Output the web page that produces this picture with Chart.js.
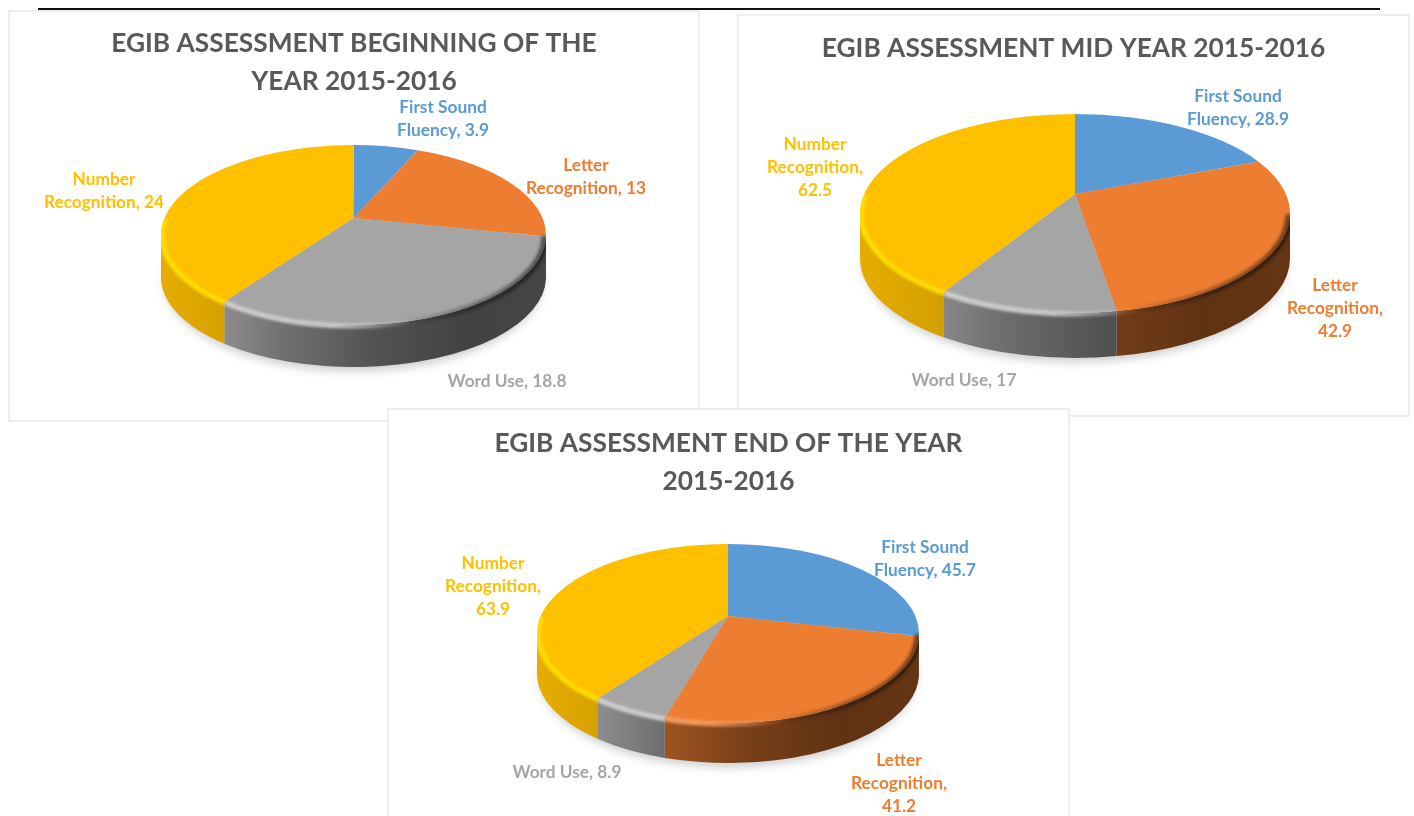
<!DOCTYPE html>
<html><head><meta charset="utf-8">
<script src="https://cdn.jsdelivr.net/npm/chart.js@4"></script>
<style>
html,body{margin:0;padding:0;background:#fff;width:1414px;height:816px;overflow:hidden}
#rule{position:absolute;left:38px;top:8px;width:1342px;height:2px;background:#111}
.card{position:absolute;background:#fff;box-sizing:border-box;border:2px solid #eeeeee}
canvas{position:absolute;left:-2px;top:-2px;filter:blur(.45px)}
</style></head><body>
<div id="rule"></div>
<script>
const categories = ['First Sound Fluency', 'Letter Recognition', 'Word Use', 'Number Recognition'];
const beginValues = [3.9, 13, 18.8, 24];
const midValues = [28.9, 42.9, 17, 62.5];
const endValues = [45.7, 41.2, 8.9, 63.9];
const beginTitle = ['EGIB ASSESSMENT BEGINNING OF THE', 'YEAR 2015-2016'];
const midTitle = ['EGIB ASSESSMENT MID YEAR 2015-2016'];
const endTitle = ['EGIB ASSESSMENT END OF THE YEAR', '2015-2016'];
const sliceColors = ['#5B9BD5', '#ED7D31', '#A5A5A5', '#FFC000'];
const rimColors = ['#7FB2E0', '#F7A064', '#D2D2D2', '#FFE000'];
const labelColors = ['#5B9BD5', '#ED7D31', '#A5A5A5', '#FFC000'];
const titleColor = '#595959';
const fontFamily = 'Lato, Carlito, sans-serif';

// layout only: card box, ellipse of the tilted pie, label anchors (page px)
const layouts = [
 {values:beginValues,title:beginTitle,box:[8,10,692,412],pad:15,
  pie:{cx:353.5,cy:235,rx:192.5,ry:90,depth:42,b:-0.19},
  labels:[{x:443,y:107,w:[2,2]},{x:586,y:165,w:[1,2]},{x:507,y:381,w:[3]},{x:104,y:179,w:[1,2]}]},
 {values:midValues,title:midTitle,box:[737,14,673,403],pad:16,
  pie:{cx:1075,cy:213.5,rx:215,ry:99.5,depth:45,b:-0.196},
  labels:[{x:1238,y:96,w:[2,2]},{x:1335,y:285,w:[1,1,1]},{x:964,y:380,w:[3]},{x:815,y:144,w:[1,1,1]}]},
 {values:endValues,title:endTitle,box:[387,408,683,420],pad:17,
  pie:{cx:728,cy:633.5,rx:191,ry:89.5,depth:40,b:-0.196},
  labels:[{x:925,y:547,w:[2,2]},{x:899,y:760,w:[1,1,1]},{x:567,y:772,w:[3]},{x:493,y:563,w:[1,1,1]}]}
];

const wallShade = [[0,.90],[.17,.84],[.32,.68],[.55,.50],[.8,.40],[1,.42]];
function rgb(hex){const n=parseInt(hex.slice(1),16);return [n>>16,(n>>8)&255,n&255];}
function wallGradient(ctx,g,hex){
  const gr=ctx.createLinearGradient(g.cx-g.rx,0,g.cx+g.rx,0),c=rgb(hex);
  wallShade.forEach(([p,s])=>gr.addColorStop(p,`rgb(${c.map(v=>Math.round(v*s)).join(',')})`));
  return gr;
}
function lightRim(ctx,g,hex){
  const gr=ctx.createLinearGradient(g.cx-g.rx,0,g.cx+g.rx,0),c=rgb(hex).join(',');
  gr.addColorStop(0,`rgba(${c},1)`);
  gr.addColorStop(.45,`rgba(${c},.95)`);
  gr.addColorStop(.66,`rgba(${c},0)`);
  gr.addColorStop(1,`rgba(${c},0)`);
  return gr;
}
function darkRim(ctx,g){
  const gr=ctx.createLinearGradient(g.cx-g.rx,0,g.cx+g.rx,0);
  gr.addColorStop(0,'rgba(0,0,0,0)');
  gr.addColorStop(.62,'rgba(0,0,0,0)');
  gr.addColorStop(.8,'rgba(0,0,0,.3)');
  gr.addColorStop(1,'rgba(0,0,0,.5)');
  return gr;
}
// boost of the unit circle: moves the pie apex up inside the ellipse (perspective)
function project(angle,g){
  const X=Math.sin(angle),Y=-Math.cos(angle),d=1+g.b*Y;
  const px=X*Math.sqrt(1-g.b*g.b)/d,py=(Y+g.b)/d;
  return {t:Math.atan2(py,px)};
}

const pie3d={
  id:'pie3d',
  beforeDatasetDraw(chart,args,opts){
    const ctx=chart.ctx,[ox,oy]=opts.origin,p=opts.pie;
    const g={cx:p.cx-ox,cy:p.cy-oy,rx:p.rx,ry:p.ry,depth:p.depth,b:p.b};
    const arcs=chart.getDatasetMeta(args.index).data.map((a,i)=>{
      const s=project(a.startAngle+Math.PI/2,g).t;let e=project(a.endAngle+Math.PI/2,g).t;
      let t1=s<0?s+2*Math.PI:s,t2=e<0?e+2*Math.PI:e;
      if(t2<=t1)t2+=2*Math.PI;
      return {t1,t2,color:a.options.backgroundColor,rim:rimColors[i]};
    });
    const spans=(a,hiExtra)=>[[0,Math.PI+hiExtra],[2*Math.PI,3*Math.PI+hiExtra]]
      .map(([lo,hi])=>[Math.max(a.t1,lo),Math.min(a.t2,hi)]).filter(([u,v])=>v>u);
    ctx.save();
    // soft ground shadow
    ctx.save();ctx.filter='blur(5px)';ctx.fillStyle='rgba(0,0,0,.20)';
    ctx.beginPath();ctx.ellipse(g.cx,g.cy+g.depth+4,g.rx-3,g.ry,0,0,2*Math.PI);ctx.fill();ctx.restore();
    // walls
    arcs.forEach(a=>{
      spans(a,0).forEach(([u,v])=>{
        ctx.beginPath();
        ctx.ellipse(g.cx,g.cy,g.rx,g.ry,0,u,v);
        ctx.ellipse(g.cx,g.cy+g.depth,g.rx,g.ry,0,v,u,true);
        ctx.closePath();
        ctx.fillStyle=wallGradient(ctx,g,a.color);ctx.fill();
      });
    });
    // top faces
    const ax=g.cx,ay=g.cy+g.ry*g.b;
    arcs.forEach(a=>{
      ctx.beginPath();ctx.moveTo(ax,ay);
      ctx.ellipse(g.cx,g.cy,g.rx,g.ry,0,a.t1,a.t2);ctx.closePath();
      ctx.fillStyle=a.color;ctx.fill();
    });
    // bevel along the front rim, kept inside the pie silhouette
    ctx.save();
    ctx.beginPath();
    ctx.ellipse(g.cx,g.cy,g.rx,g.ry,0,0,2*Math.PI);ctx.closePath();
    ctx.moveTo(g.cx+g.rx,g.cy);
    ctx.ellipse(g.cx,g.cy,g.rx,g.ry,0,0,Math.PI);
    ctx.ellipse(g.cx,g.cy+g.depth,g.rx,g.ry,0,Math.PI,0,true);
    ctx.closePath();
    ctx.clip();
    ctx.filter='blur(1.6px)';ctx.lineWidth=5;ctx.lineCap='butt';
    arcs.forEach(a=>{
      spans(a,0.2).forEach(([u,v])=>{
        ctx.strokeStyle=lightRim(ctx,g,a.rim);
        ctx.beginPath();ctx.ellipse(g.cx,g.cy+1,g.rx-1,g.ry,0,u,v);ctx.stroke();
      });
    });
    ctx.lineWidth=7;ctx.strokeStyle=darkRim(ctx,g);
    ctx.beginPath();ctx.ellipse(g.cx,g.cy+1,g.rx-1,g.ry,0,0,Math.PI);ctx.stroke();
    ctx.restore();
    ctx.restore();
    return false;
  },
  afterDraw(chart,args,opts){
    const ctx=chart.ctx,[ox,oy]=opts.origin,ds=chart.data.datasets[0];
    ctx.save();
    ctx.font='bold 17.3px '+fontFamily;ctx.textAlign='center';ctx.textBaseline='middle';
    chart.data.labels.forEach((name,i)=>{
      const words=(name+', '+ds.data[i]).split(' '),L=opts.labels[i];
      let k=0;
      ctx.fillStyle=labelColors[i];
      L.w.forEach((n,row)=>{
        ctx.fillText(words.slice(k,k+n).join(' '),L.x-ox,L.y-oy+row*23);k+=n;
      });
    });
    ctx.restore();
  }
};

layouts.forEach(l=>{
  const card=document.createElement('div');card.className='card';
  const [x,y,w,h]=l.box;
  card.style.cssText=`left:${x}px;top:${y}px;width:${w}px;height:${h}px`;
  const cv=document.createElement('canvas');cv.width=w;cv.height=h;
  card.appendChild(cv);document.body.appendChild(card);
  new Chart(cv,{
    type:'pie',
    data:{labels:categories,datasets:[{data:l.values,backgroundColor:sliceColors,borderWidth:0}]},
    plugins:[pie3d],
    options:{
      responsive:false,animation:false,events:[],
      plugins:{
        legend:{display:false},tooltip:{enabled:false},
        title:{display:true,text:l.title,color:titleColor,padding:{top:l.pad,bottom:0},
          font:{family:fontFamily,size:26.3,weight:'bold',lineHeight:1.445}},
        pie3d:{origin:[x,y],pie:l.pie,labels:l.labels}
      }
    }
  });
});
</script>
</body></html>
